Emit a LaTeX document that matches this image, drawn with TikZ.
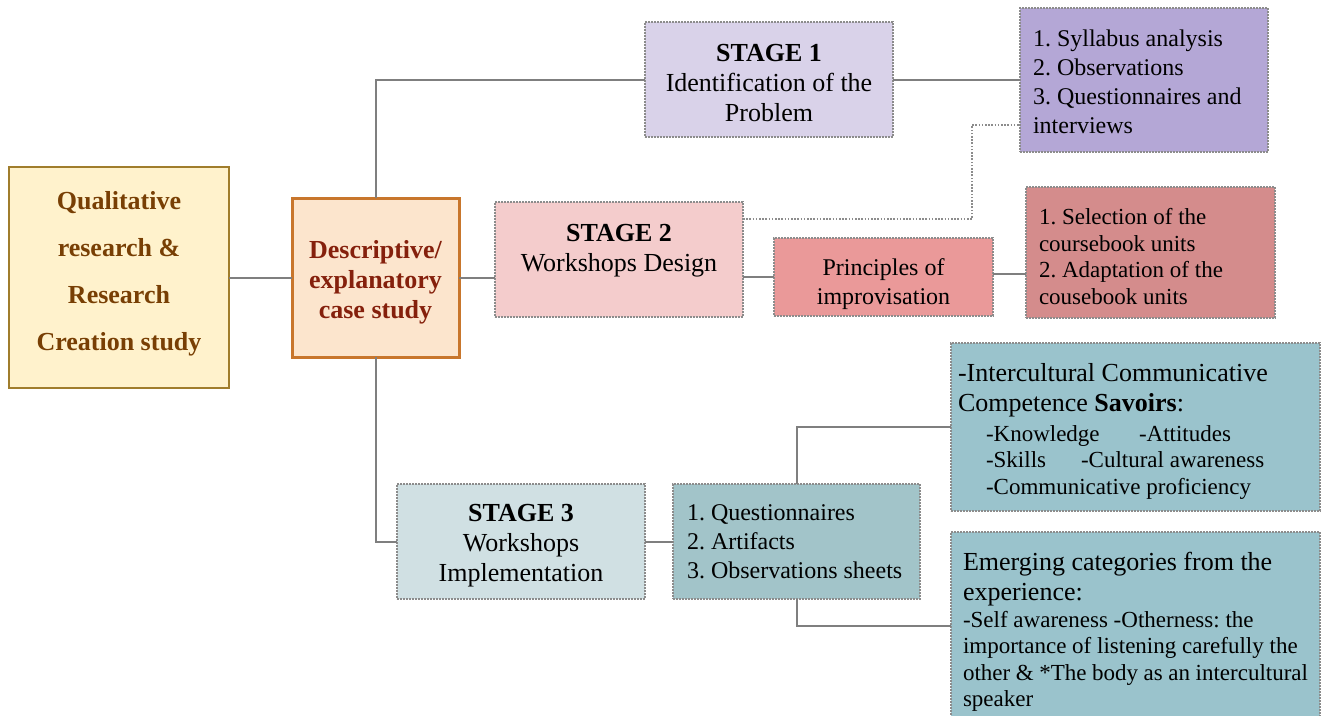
\documentclass[tikz,border=0pt]{standalone}
\usepackage{fontspec}
\setmainfont{Liberation Serif}
\frenchspacing
\definecolor{connGray}{HTML}{7F7F7F}
\definecolor{dotGray}{HTML}{8C8C8C}
\definecolor{qualFill}{HTML}{FFF2CC}
\definecolor{qualLine}{HTML}{A07D2C}
\definecolor{qualText}{HTML}{783F04}
\definecolor{descFill}{HTML}{FCE5CD}
\definecolor{descLine}{HTML}{C8762C}
\definecolor{descText}{HTML}{85200C}
\definecolor{stOneFill}{HTML}{D9D2E9}
\definecolor{listOneFill}{HTML}{B4A7D6}
\definecolor{stTwoFill}{HTML}{F4CCCC}
\definecolor{prinFill}{HTML}{EA9999}
\definecolor{listTwoFill}{HTML}{D48C8C}
\definecolor{stThreeFill}{HTML}{D0E0E3}
\definecolor{listThreeFill}{HTML}{A2C4C9}
\definecolor{outFill}{HTML}{9AC3CC}
\newcommand{\bigtxt}{\fontsize{26}{30}\selectfont}
\newcommand{\midtxt}{\fontsize{24}{29}\selectfont}
\newcommand{\smalltxt}{\fontsize{23}{26.5}\selectfont}
% invisible struts that lift the first line or deepen the last one
\newcommand{\toppad}[1]{\rule{0pt}{#1}}
\newcommand{\botpad}[1]{\rule[-#1]{0pt}{0pt}}
\tikzset{
  boxbase/.style={rectangle, anchor=north west, inner sep=0pt, outer sep=0pt},
  dotbox/.style={boxbase, draw=dotGray, line width=1.1pt, dash pattern=on 1.6pt off 1.4pt},
  cbox/.style={dotbox, align=center, font=\bigtxt},
  lbox/.style={dotbox, align=flush left, inner xsep=13pt,
    execute at begin node={\spaceskip=0pt\xspaceskip=0pt}},
  conn/.style={draw=connGray, line width=2pt},
  dotconn/.style={draw=dotGray, line width=1.1pt, dash pattern=on 1.6pt off 1.6pt},
}
\begin{document}
\begin{tikzpicture}[x=1pt, y=-1pt]
\useasboundingbox (0,0) rectangle (1321,715);

% root and method boxes
\node[boxbase, draw=qualLine, line width=1.4pt, fill=qualFill, minimum width=220pt, minimum height=221pt,
      align=center, text=qualText, font=\fontsize{26}{47}\selectfont\bfseries]
  (qual) at (9,167) {Qualitative\\research \&\\Research\\Creation study\botpad{14pt}};
\node[boxbase, draw=descLine, line width=3pt, fill=descFill, minimum width=167pt, minimum height=159pt,
      align=center, text=descText, font=\bigtxt\bfseries]
  (desc) at (292,198) {\toppad{27pt}Descriptive/\\explanatory\\case study};

% stage 1
\node[cbox, fill=stOneFill, minimum width=248pt, minimum height=115pt]
  (s1) at (645,22) {\toppad{25pt}\textbf{STAGE 1}\\Identification of the\\Problem};
\node[lbox, fill=listOneFill, text width=222pt, minimum height=144pt, font=\midtxt]
  (l1) at (1020,8) {\toppad{20pt}1. Syllabus analysis\\2. Observations\\3. Questionnaires and\\interviews};

% stage 2
\node[cbox, fill=stTwoFill, minimum width=248pt, minimum height=115pt]
  (s2) at (495,202) {\textbf{STAGE 2}\\Workshops Design\botpad{24pt}};
\node[cbox, fill=prinFill, minimum width=219pt, minimum height=78pt, font=\midtxt]
  (pr) at (774,238) {\toppad{31pt}Principles of\\improvisation};
\node[lbox, fill=listTwoFill, text width=223pt, minimum height=131pt, font=\smalltxt]
  (l2) at (1026,187) {\toppad{24pt}1. Selection of the\\coursebook units\\2. Adaptation of the\\cousebook units};

% stage 3
\node[cbox, fill=stThreeFill, minimum width=248pt, minimum height=115pt]
  (s3) at (397,484) {\toppad{25pt}\textbf{STAGE 3}\\Workshops\\Implementation};
\node[lbox, fill=listThreeFill, inner xsep=14pt, text width=219pt, minimum height=115pt, font=\midtxt]
  (l3) at (673,484) {1. Questionnaires\\2. Artifacts\\3.~Observations~sheets};
\node[lbox, fill=outFill, inner xsep=7pt, text width=355pt, minimum height=168pt]
  (sv) at (951,343) {{\bigtxt\toppad{27pt}-Intercultural Communicative\\Competence \textbf{Savoirs}:\par}
    \vspace{3pt}
    {\smalltxt\hspace*{28pt}\makebox[153pt][l]{-Knowledge}-Attitudes\\
     \hspace*{28pt}\makebox[95pt][l]{-Skills}-Cultural awareness\\
     \hspace*{28pt}-Communicative proficiency\par}};
\node[lbox, fill=outFill, inner xsep=12pt, text width=345pt, minimum height=200pt]
  (em) at (951,532) {{\bigtxt Emerging categories from the\\experience:\par}
    {\smalltxt -Self awareness -Otherness: the\\importance of listening carefully the\\other \& *The body as an intercultural\\speaker\par}};

% connectors
\draw[conn] (qual.east) -- (desc.west);
\draw[conn] (desc.north) |- (s1.west);
\draw[conn] (desc.south) |- (s3.west);
\draw[conn] (desc.east) -- (desc.east -| s2.west);
\draw[conn] (s1.east) -- (s1.east -| l1.west);
\draw[dotconn] ([yshift=-17pt]s2.north east) -| ([xshift=-48pt,yshift=27pt]l1.south west) -- ([yshift=27pt]l1.south west);
\draw[conn] (pr.west -| s2.east) -- (pr.west);
\draw[conn] ([yshift=3pt]pr.east) -- ([yshift=3pt]pr.east -| l2.west);
\draw[conn] (s3.east) -- (s3.east -| l3.west);
\draw[conn] (l3.north) |- (sv.west);
\draw[conn] (l3.south) |- ([yshift=-94pt]em.north west);
\end{tikzpicture}
\end{document}
